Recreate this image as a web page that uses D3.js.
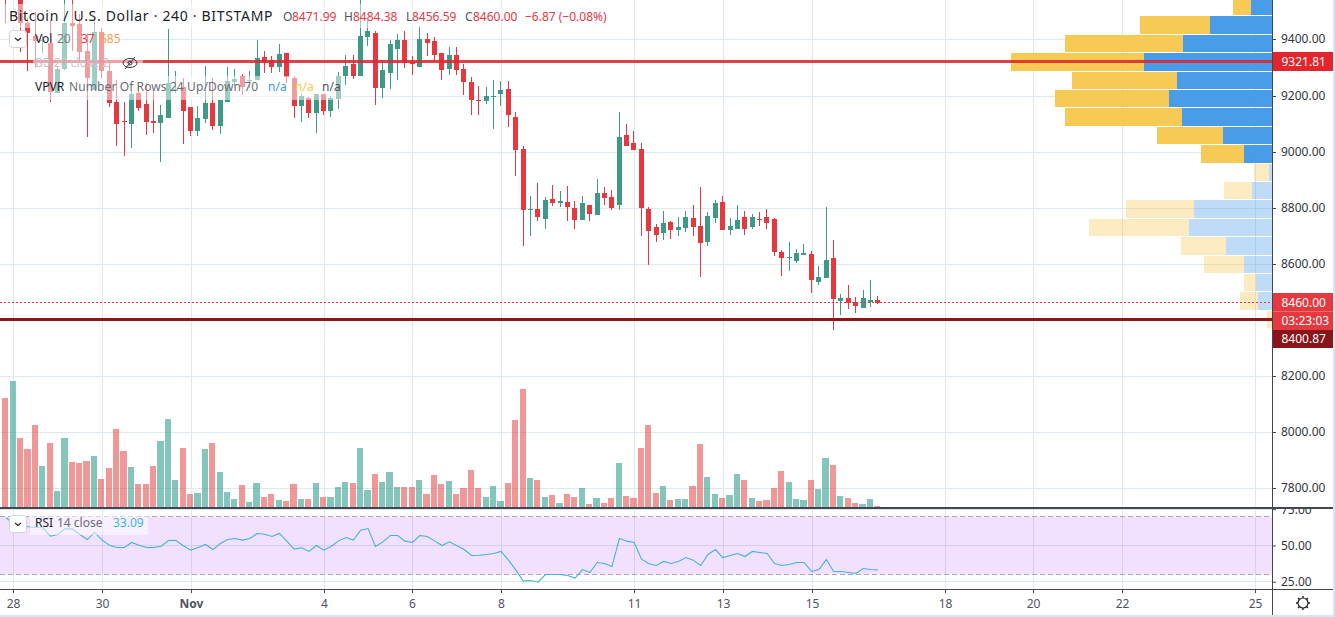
<!DOCTYPE html>
<html>
<head>
<meta charset="utf-8">
<script src="https://cdn.jsdelivr.net/npm/d3@7"></script>
<style>
  html, body { margin: 0; padding: 0; background: #e0e3eb; overflow: hidden; }
  svg { display: block; background: #fff; }
  text { font-family: "Noto Sans", sans-serif; }
</style>
</head>
<body>
<svg id="chart" width="1333" height="615"></svg>
<script>
// 4h candles, index 1 = 28 Oct
const opens = [9755,9612,9594,9459,9413,9395,9388,9210,9295,9459,
  9455,9359,9220,9427,9288,9177,9108,9099,9210,9170,
  9110,9103,9120,9217,9231,9160,9074,9117,9174,9092,
  9177,9249,9270,9252,9256,9338,9327,9302,9352,9263,
  9163,9192,9138,9206,9145,9188,9270,9313,9270,9409,
  9423,9227,9281,9366,9398,9320,9302,9402,9395,9352,
  9295,9345,9295,9249,9184,9181,9195,9206,9224,9124,
  9010,8793,8796,8761,8832,8818,8821,8800,8757,8810,
  8775,8853,8839,8810,9060,9031,9010,8796,8732,8711,
  8750,8721,8729,8764,8736,8679,8764,8821,8721,8725,
  8768,8732,8761,8768,8761,8643,8622,8611,8632,8636,
  8536,8550,8622,8468,8479,8465,8443,8465,8471.99];
const highs = [9790,9826,9630,9477,9498,9416,9470,9306,9559,9559,
  9491,9423,9480,9441,9316,9256,9177,9220,9238,9245,
  9217,9167,9437,9288,9263,9160,9163,9306,9263,9184,
  9302,9295,9277,9288,9398,9359,9341,9384,9352,9270,
  9206,9195,9206,9206,9199,9284,9345,9345,9559,9470,
  9430,9327,9398,9420,9430,9341,9448,9423,9409,9352,
  9373,9373,9313,9267,9234,9231,9256,9252,9252,9142,
  9021,8842,8889,8839,8882,8860,8878,8825,8842,8810,
  8903,8875,8864,9142,9099,9074,9031,8803,8743,8789,
  8753,8768,8789,8810,8875,8786,8828,8842,8764,8810,
  8789,8778,8786,8796,8764,8650,8679,8654,8671,8647,
  8593,8803,8686,8493,8525,8483,8507,8543,8484.38];
const lows = [9459,9569,9356,9288,9299,9352,9177,9210,9291,9359,
  9327,9053,9220,9263,9160,9021,8985,9014,9145,9060,
  9067,8964,9120,9210,9028,9056,9056,9103,9078,9063,
  9177,9238,9202,9227,9256,9281,9281,9284,9245,9120,
  9106,9120,9067,9131,9124,9153,9238,9259,9270,9377,
  9167,9192,9224,9256,9299,9274,9302,9341,9320,9256,
  9274,9274,9202,9131,9131,9170,9081,9163,9088,8914,
  8664,8700,8753,8725,8807,8803,8753,8725,8757,8753,
  8775,8810,8793,8793,9021,9006,8700,8597,8679,8686,
  8689,8700,8714,8700,8554,8664,8746,8721,8704,8725,
  8704,8725,8736,8725,8629,8558,8575,8604,8632,8497,
  8525,8550,8365,8419,8440,8426,8443,8447,8456.59];
const closes = [9559,9790,9459,9423,9395,9398,9213,9295,9459,9448,
  9356,9263,9427,9288,9174,9099,9105,9206,9156,9106,
  9103,9131,9245,9224,9145,9074,9120,9174,9092,9184,
  9252,9259,9231,9256,9334,9320,9302,9349,9267,9163,
  9199,9138,9206,9145,9192,9270,9306,9270,9413,9430,
  9227,9291,9384,9398,9316,9313,9402,9388,9345,9291,
  9345,9291,9249,9184,9181,9199,9199,9220,9131,9006,
  8793,8796,8768,8828,8818,8825,8803,8757,8818,8778,
  8853,8835,8800,9053,9021,9006,8800,8718,8704,8746,
  8721,8732,8768,8732,8675,8771,8818,8721,8736,8757,
  8725,8768,8757,8746,8643,8622,8625,8639,8639,8543,
  8554,8614,8476,8479,8461,8451,8479,8472,8460];
const volumes = [3060,3537,1941,1633,2305,1157,1801,457,1941,1269,
  1241,1297,1437,793,1101,2193,1577,1129,653,653,
  1157,1857,2473,765,1661,373,401,1633,1801,989,
  429,233,625,149,681,289,373,205,177,653,
  233,233,681,289,289,569,709,681,1661,485,
  933,709,989,569,569,569,765,373,905,653,
  737,373,541,1045,541,289,597,177,681,2445,
  3313,821,765,289,345,121,373,289,541,93,
  261,121,261,1241,317,261,1661,2305,401,597,
  205,233,233,597,1773,849,373,261,345,933,
  765,261,177,205,541,1017,709,233,205,765,
  513,1381,1185,317,261,121,93,233,37];
const rsiValues = [69.1,65.2,63.6,62.9,62.4,62.2,56.4,57.6,61.5,61.3,
  57.6,54.1,59.0,53.7,50.2,48.6,48.6,52.1,50.2,48.6,
  48.6,49.5,53.4,53.4,49.8,46.8,48.6,50.7,47.2,51.4,
  54.1,54.8,53.7,54.8,58.3,57.8,56.2,58.3,53.0,47.5,
  48.4,45.9,50.0,46.8,49.3,53.2,55.5,53.7,60.6,61.7,
  49.3,52.5,56.9,56.9,53.0,52.1,56.9,56.2,53.2,50.0,
  52.5,49.8,47.2,43.1,43.3,43.8,44.5,45.9,39.9,33.0,
  25.4,25.9,24.7,30.0,30.0,30.0,29.3,27.5,33.4,31.4,
  38.3,37.6,35.5,54.8,53.0,52.1,40.6,37.4,36.2,39.0,
  37.6,39.0,41.7,39.9,36.2,43.8,47.2,41.7,43.1,44.5,
  42.4,45.9,45.2,44.5,37.6,36.2,36.9,38.3,38.3,32.1,
  33.4,40.3,32.1,32.1,31.4,30.7,34.1,33.4,33.09];

// volume profile rows, top down
const vpUp = [21,62,89,128,95,103,90,49,28,3,20,78,83,46,28,16,14,0];
const vpDown = [18,70,118,133,105,114,117,66,43,15,28,68,100,45,40,12,18,5];
const vpFaded = [false,false,false,false,false,false,false,false,false,true,true,true,true,true,true,true,true,true];
const vpTopPrice = 9548;
const vpRowSize = 65.6;

const priceTicks = [9400,9200,9000,8800,8600,8400,8200,8000,7800];
const priceLabels = [9400,9200,9000,8800,8600,8200,8000,7800];
const rsiTicks = [75,50,25];
const timeIdx = [1,13,25,43,55,67,85,97,109,127,139,151,169];
const timeLabels = ['28','30','Nov','4','6','8','11','13','15','18','20','22','25'];

const RED = '#e5393f', GREEN = '#3d9a87', AXIS = '#434651', GRID = '#dde8ef', TXT = '#50535e';
const plotW = 1272, paneBottom = 507;

const svg = d3.select('#chart');

// scales
const x = d3.scaleLinear().domain([1, 169]).range([13.4, 1254.9]).interpolate(d3.interpolateRound);
const xf = d3.scaleLinear().domain([1, 169]).range([12.7, 1254.2]);
const y = d3.scaleLinear().domain([9400, 7800]).range([39.4, 488.4]);
const yTick = y.copy().interpolate(d3.interpolateRound);
const yVol = d3.scaleLinear().domain([0, 3600]).range([paneBottom, paneBottom - 128.6]);
const yRsi = d3.scaleLinear().domain([70, 30]).range([516.5, 574.5]);
const vpW = d3.scaleLinear().domain([0, 261]).range([0, 261]);

svg.append('defs').append('clipPath').attr('id', 'pricePane')
  .append('rect').attr('width', plotW).attr('height', paneBottom);
d3.select('defs').append('clipPath').attr('id', 'rsiPane')
  .append('rect').attr('y', 508).attr('width', 1333).attr('height', 81);

// grid
const grid = svg.append('g').attr('stroke', GRID).attr('shape-rendering', 'crispEdges');
grid.selectAll('.gy').data(priceTicks).join('line').attr('class', 'gy')
  .attr('x1', 0).attr('x2', plotW)
  .attr('y1', d => yTick(d) + 0.5).attr('y2', d => yTick(d) + 0.5);
grid.selectAll('.gr').data(rsiTicks).join('line').attr('class', 'gr')
  .attr('x1', 0).attr('x2', plotW)
  .attr('y1', d => Math.floor(yRsi(d)) + 0.5).attr('y2', d => Math.floor(yRsi(d)) + 0.5);
grid.selectAll('.gx').data(timeIdx).join('line').attr('class', 'gx')
  .attr('x1', d => x(d) + 0.5).attr('x2', d => x(d) + 0.5)
  .attr('y1', 0).attr('y2', 589);

// rsi band
svg.append('rect')
  .attr('x', 0).attr('width', plotW)
  .attr('y', yRsi(70)).attr('height', yRsi(30) - yRsi(70))
  .attr('fill', 'rgba(155,39,255,0.14)');
svg.selectAll('.band').data([70, 30]).join('line').attr('class', 'band')
  .attr('x1', 0).attr('x2', plotW)
  .attr('y1', d => Math.floor(yRsi(d)) + 0.5).attr('y2', d => Math.floor(yRsi(d)) + 0.5)
  .attr('stroke', '#b3a6b8').attr('stroke-dasharray', '5 3')
  .attr('shape-rendering', 'crispEdges');

// volume profile
const vp = svg.append('g').attr('clip-path', 'url(#pricePane)').attr('shape-rendering', 'crispEdges');
const vpRows = vpUp.map((u, i) => ({
  up: u, down: vpDown[i], faded: vpFaded[i],
  top: y(vpTopPrice - i * vpRowSize), bottom: y(vpTopPrice - (i + 1) * vpRowSize)
}));
vp.selectAll('.up').data(vpRows).join('rect').attr('class', 'up')
  .attr('x', d => plotW - vpW(d.up)).attr('width', d => vpW(d.up))
  .attr('y', d => d.top).attr('height', d => d.bottom - d.top - 1)
  .attr('fill', d => d.faded ? 'rgba(74,158,232,0.36)' : 'rgba(66,152,230,0.96)');
vp.selectAll('.down').data(vpRows).join('rect').attr('class', 'down')
  .attr('x', d => plotW - vpW(d.up) - vpW(d.down)).attr('width', d => vpW(d.down))
  .attr('y', d => d.top).attr('height', d => d.bottom - d.top - 1)
  .attr('fill', d => d.faded ? 'rgba(247,200,80,0.36)' : 'rgba(246,198,72,0.93)');

// volume bars
const volG = svg.append('g').attr('clip-path', 'url(#pricePane)').attr('shape-rendering', 'crispEdges');
volG.selectAll('rect').data(volumes).join('rect')
  .attr('x', (d, i) => Math.round(xf(i) - 3.1))
  .attr('width', (d, i) => Math.round(xf(i) + 3.1) - Math.round(xf(i) - 3.1))
  .attr('y', d => yVol(d))
  .attr('height', d => yVol(0) - yVol(d))
  .attr('fill', (d, i) => closes[i] >= opens[i] ? 'rgba(38,154,135,0.57)' : 'rgba(226,60,60,0.53)');

// candles
const candles = svg.append('g').attr('clip-path', 'url(#pricePane)').attr('shape-rendering', 'crispEdges');
const color = i => closes[i] >= opens[i] ? GREEN : RED;
candles.selectAll('line').data(opens).join('line')
  .attr('x1', (d, i) => Math.round(xf(i)) + 0.5).attr('x2', (d, i) => Math.round(xf(i)) + 0.5)
  .attr('y1', (d, i) => y(highs[i])).attr('y2', (d, i) => y(lows[i]))
  .attr('stroke', (d, i) => color(i));
candles.selectAll('rect').data(opens).join('rect')
  .attr('x', (d, i) => Math.round(xf(i)) - 2)
  .attr('width', 5)
  .attr('y', (d, i) => y(Math.max(opens[i], closes[i])))
  .attr('height', (d, i) => Math.max(1, Math.abs(y(opens[i]) - y(closes[i]))))
  .attr('fill', (d, i) => color(i));

// horizontal price levels
const levels = svg.append('g').attr('shape-rendering', 'crispEdges');
levels.append('line').attr('x1', 0).attr('x2', plotW)
  .attr('y1', y(8460) - 0.5).attr('y2', y(8460) - 0.5)
  .attr('stroke', RED).attr('stroke-dasharray', '2 2');
levels.append('line').attr('x1', 0).attr('x2', plotW)
  .attr('y1', y(9321.81)).attr('y2', y(9321.81))
  .attr('stroke', 'rgba(222,38,46,0.88)').attr('stroke-width', 3);
levels.append('line').attr('x1', 0).attr('x2', plotW)
  .attr('y1', y(8400.87)).attr('y2', y(8400.87))
  .attr('stroke', '#8f1616').attr('stroke-width', 3);

// rsi line
svg.append('path').datum(rsiValues)
  .attr('clip-path', 'url(#rsiPane)')
  .attr('fill', 'none').attr('stroke', '#45b0e2').attr('stroke-width', 1.1)
  .attr('d', d3.line().x((d, i) => xf(i) + 0.7).y(d => yRsi(d)));

// legend rows
const legendBg = svg.append('g').attr('fill', 'rgba(255,255,255,0.5)');
[[0, 4, 612, 24], [33, 28, 89, 24], [33, 52, 110, 24], [33, 76, 312, 24], [30, 514, 118, 21]].forEach(r => {
  legendBg.append('rect').attr('x', r[0]).attr('y', r[1]).attr('width', r[2]).attr('height', r[3]);
});

function label(px, py, str, fill, size, weight) {
  return svg.append('text').attr('x', px).attr('y', py).attr('dy', '0.36em')
    .attr('fill', fill).attr('font-size', size || 12).attr('font-weight', weight || 400).text(str);
}
label(9, 16, 'Bitcoin / U.S. Dollar · 240 · BITSTAMP', '#20222a', 14).attr('letter-spacing', 0.68);
[[283, 'O'], [344, 'H'], [406, 'L'], [465, 'C']].forEach(d => label(d[0], 17, d[1], TXT, 12));
[[292, '8471.99'], [353, '8484.38'], [412, '8456.59'], [473, '8460.00'], [525, '−6.87 (−0.08%)']]
  .forEach(d => label(d[0], 17, d[1], RED, 12));
label(35, 39, 'Vol', '#20222a', 12);
label(57, 39, '20', '#787b86', 12);
label(81, 39, '37', RED, 12);
label(100, 39, '585', '#f5a04a', 12);
label(35, 63, 'BB 20 close 2', '#c3c5cc', 12);
label(35, 87, 'VPVR', '#20222a', 12);
label(69, 87, 'Number Of Rows 24 Up/Down 70', '#6a6d78', 12).attr('letter-spacing', 0.1);
label(268, 87, 'n/a', '#3d97ea', 12);
label(295, 87, 'n/a', '#f6c84a', 12);
label(322, 87, 'n/a', '#50535e', 12);
label(35, 523, 'RSI', '#20222a', 12);
label(57, 523, '14 close', '#6a6d78', 12);
label(113, 523, '33.09', '#3bb8d8', 12);

// crossed eye on the hidden BB row
const eye = svg.append('g').attr('transform', 'translate(130,63)')
  .attr('fill', 'none').attr('stroke', '#33353d').attr('stroke-width', 1);
eye.append('ellipse').attr('rx', 7).attr('ry', 4.5);
eye.append('circle').attr('r', 2);
eye.append('line').attr('x1', -5).attr('y1', 6).attr('x2', 5).attr('y2', -6);

// collapse buttons
[[9, 30], [9, 515]].forEach(b => {
  svg.append('rect').attr('x', b[0] + 0.5).attr('y', b[1] + 0.5).attr('width', 17).attr('height', 17)
    .attr('rx', 3).attr('fill', '#fff').attr('stroke', '#d1d4dc');
  svg.append('path').attr('d', `M${b[0] + 6},${b[1] + 8} l3,2.5 l3,-2.5`)
    .attr('fill', 'none').attr('stroke', '#20222a').attr('stroke-width', 1.2);
});

// price axis
const priceAxis = svg.append('g').attr('transform', `translate(${plotW},0)`)
  .call(d3.axisRight(yTick).tickValues(priceLabels).tickSize(4).tickPadding(5).tickFormat(d3.format('.2f')));
const rsiAxis = svg.append('g').attr('transform', `translate(${plotW},0)`).attr('clip-path', 'url(#rsiAxisClip)')
  .call(d3.axisRight(yRsi).tickValues(rsiTicks).tickSize(4).tickPadding(5).tickFormat(d3.format('.2f')));
d3.select('defs').append('clipPath').attr('id', 'rsiAxisClip')
  .append('rect').attr('x', 0).attr('y', 508).attr('width', 70).attr('height', 81);
[priceAxis, rsiAxis].forEach(a => {
  a.select('.domain').remove();
  a.selectAll('line').attr('stroke', AXIS);
  a.selectAll('text').attr('fill', '#33353d').attr('font-size', 12)
    .attr('font-family', '"Noto Sans", sans-serif');
});

// value tags on the price axis
const tags = [
  [9321.81, 52, 19, '9321.81', '#e3262b'],
  [8460, 293, 18.5, '8460.00', '#e5393f'],
  [8460, 311.5, 18.5, '03:23:03', '#e5393f'],
  [8400.87, 330, 18, '8400.87', '#8a1518']
];
tags.forEach(t => {
  svg.append('rect').attr('x', plotW + 1).attr('y', t[1]).attr('width', 60).attr('height', t[2]).attr('fill', t[4]);
  label(plotW + 9.5, t[1] + t[2] / 2, t[3], '#fff', 12);
});

// time axis
const timeAxis = svg.append('g').attr('transform', 'translate(0,589)')
  .call(d3.axisBottom(x).tickValues(timeIdx).tickSize(4).tickPadding(6)
    .tickFormat((d, i) => timeLabels[i]));
timeAxis.select('.domain').remove();
timeAxis.selectAll('line').attr('stroke', AXIS);
timeAxis.selectAll('text').attr('fill', TXT).attr('font-size', 12)
  .attr('font-family', '"Noto Sans", sans-serif')
  .attr('font-weight', (d, i) => timeLabels[i] === 'Nov' ? 700 : 400);

// pane borders
const borders = svg.append('g').attr('stroke', AXIS).attr('shape-rendering', 'crispEdges');
borders.append('line').attr('x1', 0).attr('x2', 1333).attr('y1', 507.5).attr('y2', 507.5).attr('stroke-width', 2);
borders.append('line').attr('x1', 0).attr('x2', 1333).attr('y1', 589.5).attr('y2', 589.5);
borders.append('line').attr('x1', plotW + 0.5).attr('x2', plotW + 0.5).attr('y1', 0).attr('y2', 615);

// settings gear
const gear = svg.append('g').attr('transform', 'translate(1303,603)').attr('stroke', '#20222a').attr('fill', 'none');
gear.append('circle').attr('r', 5).attr('stroke-width', 1.2);
d3.range(8).forEach(k => {
  gear.append('line').attr('y1', -5).attr('y2', -7).attr('stroke-width', 1.4)
    .attr('transform', `rotate(${k * 45})`);
});
</script>
</body>
</html>
